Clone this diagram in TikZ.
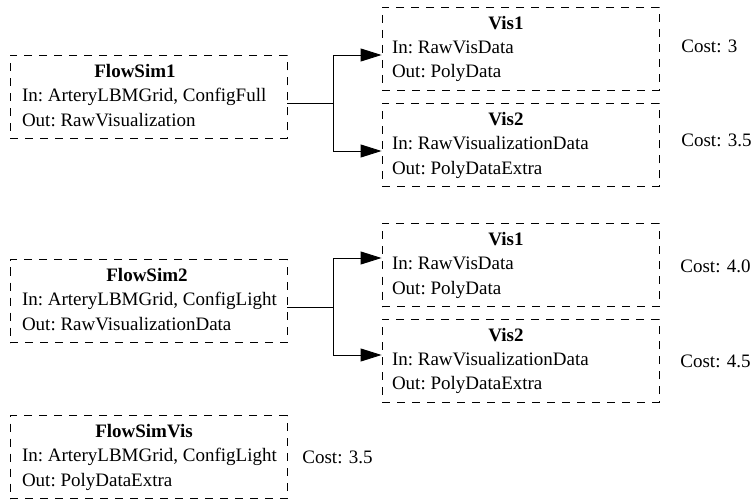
\documentclass[tikz,border=0pt]{standalone}
\usepackage{fontspec}
\setmainfont{Liberation Serif}
\usetikzlibrary{arrows.meta,calc}

% contents of a stage box: left indent, heading width, heading, input line, output line
\newcommand{\stagetext}[5]{%
  \makebox[138.5pt][l]{\begin{tabular}{@{\hspace{#1}}l@{}}%
    \makebox[#2]{\textbf{#3}}\\#4\\#5\end{tabular}}}

\begin{document}
\begin{tikzpicture}[x=0.5pt,y=-0.5pt,
  stage/.style={draw, dashed, dash pattern=on 4pt off 3.5pt, line width=0.45pt,
    rectangle, minimum width=138.5pt, minimum height=41.5pt, inner sep=0pt,
    font=\fontsize{9.5}{12.1}\selectfont\frenchspacing},
  cost/.style={anchor=base west, inner sep=0pt, font=\fontsize{9.5}{12}\selectfont},
  link/.style={draw, line width=0.45pt},
  feed/.style={link, -{Triangle[length=10.5pt,width=6.5pt]}}]
\useasboundingbox (0,0) rectangle (754,502);

% first simulation and its two visualisations
\node[stage] (fs1) at (148.5,97)
  {\stagetext{6pt}{113pt}{FlowSim1}{In: ArteryLBMGrid, ConfigFull}{Out: RawVisualization}};
\node[stage] (va) at (520.5,48.5)
  {\stagetext{5pt}{114pt}{Vis1}{In: RawVisData}{Out: PolyData}};
\node[stage] (vb) at (520.5,145)
  {\stagetext{5pt}{114pt}{Vis2}{In: RawVisualizationData}{Out: PolyDataExtra}};
\node[cost] (ca) at (681,53) {Cost: 3};
\node[cost] (cb) at (681,147) {Cost: 3.5};

\draw[link] ($(fs1.east)+(0,6)$) -- ++(46,0) coordinate (ja);
\draw[feed] (ja) |- ($(va.west)+(0,6.5)$);
\draw[feed] (ja) |- ($(vb.west)+(0,6)$);

% second simulation and its two visualisations
\node[stage] (fs2) at (148.5,301)
  {\stagetext{6pt}{125pt}{FlowSim2}{In: ArteryLBMGrid, ConfigLight}{Out: RawVisualizationData}};
\node[stage] (vc) at (520.5,265)
  {\stagetext{5pt}{114pt}{Vis1}{In: RawVisData}{Out: PolyData}};
\node[stage] (vd) at (520.5,360.5)
  {\stagetext{5pt}{114pt}{Vis2}{In: RawVisualizationData}{Out: PolyDataExtra}};
\node[cost] (cc) at (680,272) {Cost: 4.0};
\node[cost] (cd) at (680,367) {Cost: 4.5};

\draw[link] ($(fs2.east)+(0,6)$) -- ++(46,0) coordinate (jb);
\draw[feed] (jb) |- ($(vc.west)+(0,-7)$);
\draw[feed] (jb) |- ($(vd.west)+(0,-5.5)$);

% combined simulation and visualisation
\node[stage] (fsv) at (148.5,457)
  {\stagetext{6pt}{122pt}{FlowSimVis}{In: ArteryLBMGrid, ConfigLight}{Out: PolyDataExtra}};
\node[cost] (ce) at (302,463) {Cost: 3.5};
\end{tikzpicture}
\end{document}
